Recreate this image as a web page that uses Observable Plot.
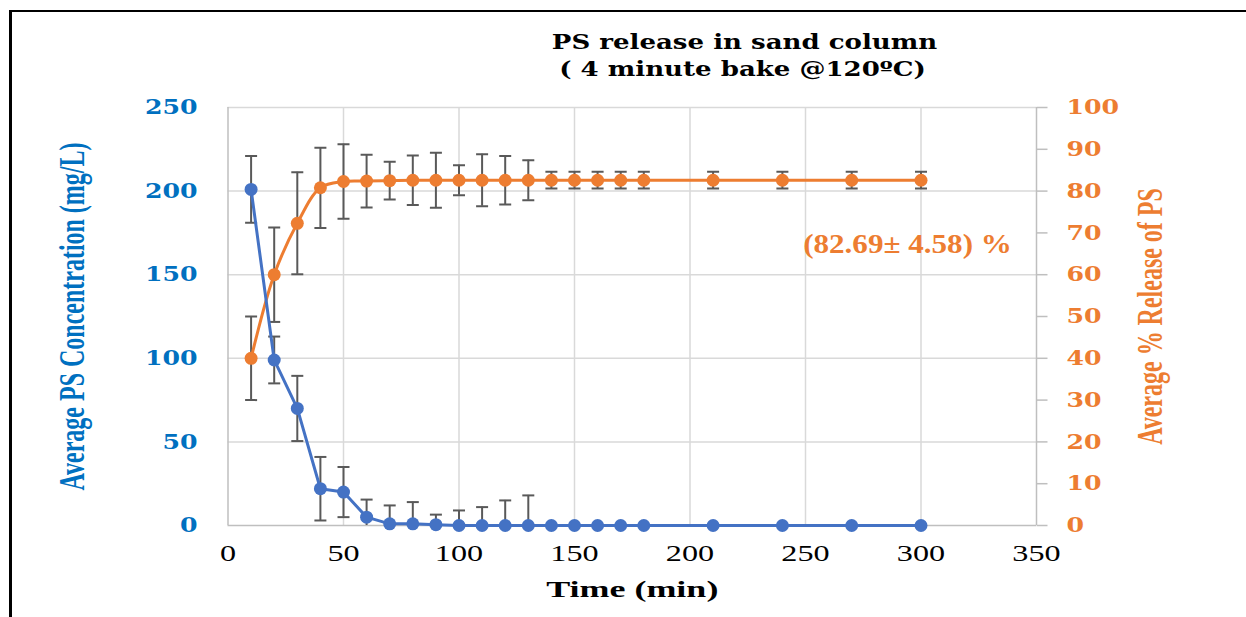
<!DOCTYPE html>
<html><head><meta charset="utf-8">
<script src="https://cdn.jsdelivr.net/npm/d3@7"></script>
<script src="https://cdn.jsdelivr.net/npm/@observablehq/plot@0.6"></script>
<style>
html,body{margin:0;padding:0;background:#fff;}
#wrap{position:relative;width:1246px;height:617px;overflow:hidden;background:#fff;}
#frame{position:absolute;left:9px;top:10px;right:0;bottom:0;border-left:3px solid #000;border-top:2px solid #000;pointer-events:none;}
svg{display:block}
</style></head><body><div id="wrap"><div id="chart"></div><div id="frame"></div></div>
<script>
// ---- data ----
const titleLines = ["PS release in sand column", "( 4 minute bake @120ºC)"];
const time = [10,20,30,40,50,60,70,80,90,100,110,120,130,140,150,160,170,180,210,240,270,300];
const conc = [201,99,70,22,20,5,1,1,0.5,0,0,0,0,0,0,0,0,0,0,0,0,0];
const concErr = [20,14,19.5,19,15,10.5,11,13,6,9,11,15,18,0,0,0,0,0,0,0,0,0];
const release = [40,60,72.3,80.8,82.3,82.4,82.5,82.6,82.6,82.6,82.6,82.6,82.6,82.6,82.6,82.6,82.6,82.6,82.6,82.6,82.6,82.6];
const releaseErr = [10,11.3,12.2,9.6,8.9,6.3,4.5,5.9,6.6,3.6,6.2,5.8,4.8,2,2,2,2,2,2,2,2,2];
const xTicks = [0,50,100,150,200,250,300,350];
const yLeftTicks = [0,50,100,150,200,250];
const yRightTicks = [0,10,20,30,40,50,60,70,80,90,100];
const annotation = ["(82.69± 4.58) %"];
const xTitle = ["Time (min)"];
const yLeftTitle = ["Average PS Concentration (mg/L)"];
const yRightTitle = ["Average % Release of PS"];

const K = 250 / 100; // right axis (0-100 %) mapped onto left axis (0-250 mg/L)
const BLUE = "#4472C4", ORANGE = "#ED7D31", AXBLUE = "#0070C0", ERR = "#595959", GRID = "#d9d9d9", AXIS = "#bfbfbf";

const rows = time.map((t, i) => ({t, conc: conc[i], cErr: concErr[i], rel: release[i] * K, rErr: releaseErr[i] * K}));
const concBars = rows.filter(d => d.cErr > 0);
const relBars = rows.filter(d => d.rErr > 0);
const caps = (bars, v, e) => bars.flatMap(d => [{t: d.t, y: d[v] + d[e]}, {t: d.t, y: d[v] - d[e]}]);
const capSymbol = {draw(ctx) { ctx.moveTo(-6, 0); ctx.lineTo(6, 0); }};
const tickSymbol = {draw(ctx) { ctx.moveTo(0, 0); ctx.lineTo(11, 0); }};

const serif = "'Liberation Serif', 'Times New Roman', serif";
const wide = "'DejaVu Serif', serif";
const tag = name => () => name; // per-text aria-label, used to stretch glyphs afterwards

const chart = Plot.plot({
  width: 1246, height: 617,
  marginLeft: 227.5, marginRight: 210, marginTop: 107, marginBottom: 92,
  x: {domain: [0, 350], axis: null},
  y: {domain: [0, 250], axis: null},
  style: {background: "transparent", overflow: "visible"},
  marks: [
    Plot.gridY(yLeftTicks.filter(v => v > 0), {stroke: GRID, strokeOpacity: 1, strokeWidth: 1.5}),
    Plot.gridX(xTicks.filter(v => v > 0 && v < 350), {stroke: GRID, strokeOpacity: 1, strokeWidth: 1.5}),
    Plot.ruleX([0, 350], {stroke: AXIS, strokeWidth: 1.5}),
    Plot.ruleY([0], {stroke: AXIS, strokeWidth: 1.5}),
    // right axis tick marks
    Plot.dot(yRightTicks, {x: () => 350, y: d => d * K, symbol: tickSymbol, r: 5, stroke: AXIS, strokeWidth: 1.5, fill: "none"}),
    // tick labels
    Plot.text(yLeftTicks, {y: d => d, text: d => String(d), frameAnchor: "left", dx: -30.5, textAnchor: "end", lineAnchor: "middle",
      fill: AXBLUE, fontFamily: wide, fontWeight: "bold", fontSize: 21, ariaLabel: tag("yleft")}),
    Plot.text(yRightTicks, {y: d => d * K, text: d => String(d), frameAnchor: "right", dx: 30, textAnchor: "start", lineAnchor: "middle",
      fill: ORANGE, fontFamily: wide, fontWeight: "bold", fontSize: 21, ariaLabel: tag("yright")}),
    Plot.text(xTicks, {x: d => d, text: d => String(d), frameAnchor: "bottom", dy: 19, textAnchor: "middle", lineAnchor: "top",
      fill: "#000", fontFamily: serif, fontSize: 23, ariaLabel: tag("xaxis")}),
    // orange series
    Plot.ruleX(relBars, {x: "t", y1: d => d.rel - d.rErr, y2: d => d.rel + d.rErr, stroke: ERR, strokeWidth: 2, clip: true}),
    Plot.dot(caps(relBars, "rel", "rErr"), {x: "t", y: "y", symbol: capSymbol, r: 6, stroke: ERR, strokeWidth: 2, fill: "none", clip: true}),
    Plot.line(rows, {x: "t", y: "rel", stroke: ORANGE, strokeWidth: 3, curve: "catmull-rom"}),
    Plot.dot(rows, {x: "t", y: "rel", r: 6.5, fill: ORANGE}),
    // blue series
    Plot.ruleX(concBars, {x: "t", y1: d => d.conc - d.cErr, y2: d => d.conc + d.cErr, stroke: ERR, strokeWidth: 2, clip: true}),
    Plot.dot(caps(concBars, "conc", "cErr"), {x: "t", y: "y", symbol: capSymbol, r: 6, stroke: ERR, strokeWidth: 2, fill: "none", clip: true}),
    Plot.line(rows, {x: "t", y: "conc", stroke: BLUE, strokeWidth: 3}),
    Plot.dot(rows, {x: "t", y: "conc", r: 6.5, fill: BLUE}),
    // texts
    Plot.text([titleLines[0]], {frameAnchor: "top-left", dx: 516.5, dy: -59, lineAnchor: "bottom", textAnchor: "middle",
      fontFamily: wide, fontWeight: "bold", fontSize: 20.5, fill: "#000", ariaLabel: tag("title")}),
    Plot.text([titleLines[1]], {frameAnchor: "top-left", dx: 514.5, dy: -32, lineAnchor: "bottom", textAnchor: "middle",
      fontFamily: wide, fontWeight: "bold", fontSize: 20.5, fill: "#000", ariaLabel: tag("title")}),
    Plot.text(annotation, {frameAnchor: "top-left", dx: 679.5, dy: 145, lineAnchor: "bottom", textAnchor: "middle",
      fontFamily: serif, fontWeight: "bold", fontSize: 28, fill: ORANGE, ariaLabel: tag("annot")}),
    Plot.text(xTitle, {frameAnchor: "bottom", dy: 71, lineAnchor: "bottom", textAnchor: "middle",
      fontFamily: serif, fontWeight: "bold", fontSize: 24, fill: "#000", ariaLabel: tag("xtitle")}),
    Plot.text(yLeftTitle, {frameAnchor: "left", dx: -156, rotate: -90, lineAnchor: "middle", textAnchor: "middle",
      fontFamily: serif, fontWeight: "bold", fontSize: 24, fill: AXBLUE, ariaLabel: tag("ytitle")}),
    Plot.text(yRightTitle, {frameAnchor: "right", dx: 114, rotate: -90, lineAnchor: "middle", textAnchor: "middle",
      fontFamily: serif, fontWeight: "bold", fontSize: 24, fill: ORANGE, ariaLabel: tag("ytitle")})
  ]
});

// horizontal stretch of glyphs, as in the reference picture (positions untouched)
function stretch(svg, label, sx, sy) {
  svg.querySelectorAll(`[aria-label="${label}"]`).forEach(el => {
    const texts = el.tagName.toLowerCase() === "text" ? [el] : Array.from(el.querySelectorAll("text"));
    texts.forEach(t => {
      const tr = t.getAttribute("transform") || "";
      t.setAttribute("transform", `${tr} scale(${sx},${sy})`);
    });
  });
}
stretch(chart, "yleft", 1.2, 1);
stretch(chart, "yright", 1.2, 1);
stretch(chart, "xaxis", 1.4, 1);
stretch(chart, "title", 1.27, 1);
stretch(chart, "annot", 1.11, 1);
stretch(chart, "xtitle", 1.5, 1);
stretch(chart, "ytitle", 1, 1.5);

document.getElementById("chart").appendChild(chart);
</script>
</body></html>
